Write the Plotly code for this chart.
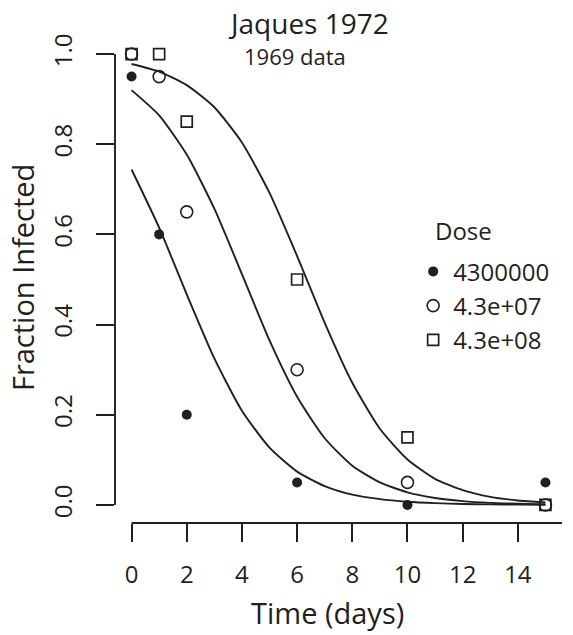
import plotly.graph_objects as go

# ---- data ----
times = [0, 1, 2, 6, 10, 15]
dose_labels = ["4300000", "4.3e+07", "4.3e+08"]
frac_low = [0.95, 0.60, 0.20, 0.05, 0.00, 0.05]
frac_mid = [1.00, 0.95, 0.65, 0.30, 0.05, 0.00]
frac_high = [1.00, 1.00, 0.85, 0.50, 0.15, 0.00]

# fitted curves (values read at each day)
curve_t = list(range(0, 16))
curve_low = [0.744, 0.615, 0.467, 0.325, 0.209, 0.127, 0.074, 0.042, 0.023,
             0.013, 0.0072, 0.0040, 0.0022, 0.0012, 0.0007, 0.0004]
curve_mid = [0.920, 0.864, 0.777, 0.657, 0.512, 0.365, 0.240, 0.148, 0.087,
             0.050, 0.028, 0.0155, 0.0086, 0.0047, 0.0026, 0.0014]
curve_high = [0.978, 0.961, 0.931, 0.882, 0.804, 0.692, 0.552, 0.404, 0.271,
              0.169, 0.101, 0.058, 0.033, 0.018, 0.010, 0.0055]

x_ticks = [0, 2, 4, 6, 8, 10, 12, 14]
y_ticks = [0.0, 0.2, 0.4, 0.6, 0.8, 1.0]

FONT = "Open Sans"
BLACK = "#231f20"

fig = go.Figure()

for cy in (curve_low, curve_mid, curve_high):
    fig.add_trace(go.Scatter(x=curve_t, y=cy, mode="lines",
                             line=dict(color=BLACK, width=1.9, shape="spline", smoothing=0.6),
                             showlegend=False, hoverinfo="skip"))

markers = [
    dict(symbol="circle", size=10, color=BLACK, line=dict(width=0)),
    dict(symbol="circle-open", size=12, color=BLACK, line=dict(width=1.6, color=BLACK)),
    dict(symbol="square-open", size=11, color=BLACK, line=dict(width=1.7, color=BLACK)),
]
for lab, ys, mk in zip(dose_labels, (frac_low, frac_mid, frac_high), markers):
    fig.add_trace(go.Scatter(x=times, y=ys, mode="markers", name=lab, marker=mk))

fig.update_layout(
    width=573, height=635,
    margin=dict(l=115, r=11, t=36, b=112),
    paper_bgcolor="white", plot_bgcolor="white",
    font=dict(family=FONT, color=BLACK, size=24),
    showlegend=True,
    legend=dict(x=0.667, y=0.562, xanchor="left", yanchor="top",
                font=dict(size=24, family=FONT, color=BLACK),
                bgcolor="rgba(0,0,0,0)", itemwidth=30, tracegroupgap=0),
    xaxis=dict(range=[-0.6, 15.6], showgrid=False, zeroline=False, showline=False,
               tickvals=x_ticks, ticks="outside", ticklen=18, tickwidth=1.9,
               tickcolor=BLACK, tickfont=dict(size=24, family=FONT, color=BLACK),
               ticklabelstandoff=12),
    yaxis=dict(range=[-0.04, 1.04], showgrid=False, zeroline=False, showline=False,
               tickvals=y_ticks, tickformat=".1f", ticks="outside", ticklen=18,
               tickwidth=1.9, tickcolor=BLACK, tickangle=-90,
               tickfont=dict(size=24, family=FONT, color=BLACK),
               ticklabelstandoff=14),
    shapes=[
        dict(type="line", xref="x", yref="paper", x0=0, x1=15.6, y0=0, y1=0,
             line=dict(color=BLACK, width=1.9)),
        dict(type="line", xref="paper", yref="y", x0=0, x1=0, y0=0, y1=1,
             line=dict(color=BLACK, width=1.9)),
    ],
    annotations=[
        dict(text="Jaques 1972", xref="paper", yref="paper", x=0.4318, y=1.027,
             xanchor="center", yanchor="middle", showarrow=False,
             font=dict(size=28, family=FONT, color=BLACK)),
        dict(text="1969 data", xref="paper", yref="paper", x=0.4027, y=0.958,
             xanchor="center", yanchor="middle", showarrow=False,
             font=dict(size=22, family=FONT, color=BLACK)),
        dict(text="Time (days)", xref="paper", yref="paper", x=0.4765, y=-0.183,
             xanchor="center", yanchor="middle", showarrow=False,
             font=dict(size=29, family=FONT, color=BLACK)),
        dict(text="Fraction Infected", xref="paper", yref="paper", x=-0.208, y=0.503,
             xanchor="center", yanchor="middle", showarrow=False, textangle=-90,
             font=dict(size=29, family=FONT, color=BLACK)),
        dict(text="Dose", xref="paper", yref="paper", x=0.711, y=0.6016,
             xanchor="left", yanchor="middle", showarrow=False,
             font=dict(size=24, family=FONT, color=BLACK)),
    ],
)

fig.write_html("out.html")
